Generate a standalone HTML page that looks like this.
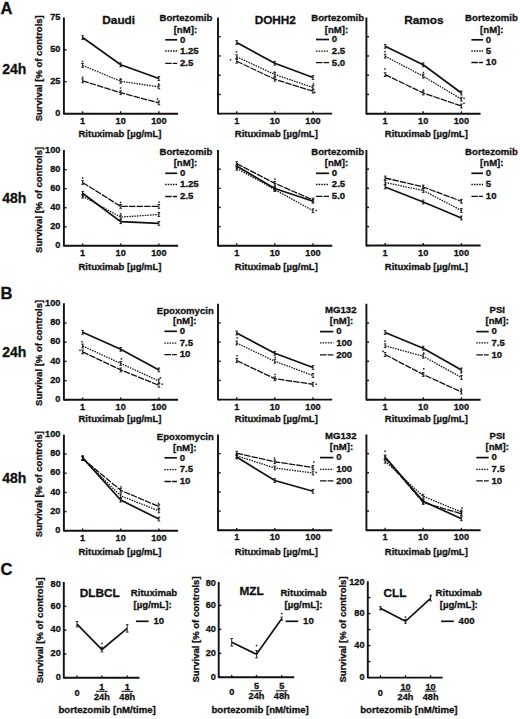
<!DOCTYPE html>
<html><head><meta charset="utf-8"><style>
html,body{margin:0;padding:0;background:#fff;}
svg{display:block;}
text{font-family:"Liberation Sans", sans-serif;font-weight:bold;fill:#111;stroke:#111;stroke-width:0.3px;}
</style></head><body>
<svg width="520" height="719" viewBox="0 0 520 719">
<rect width="520" height="719" fill="#fff"/>
<g stroke="#111" fill="none">
<path d="M63.90,17.50 V113.70 H178.10" stroke-width="1.9" fill="none" stroke-linejoin="round" stroke-linecap="butt"/>
<line x1="63.90" y1="113.65" x2="66.50" y2="113.65" stroke-width="1.4"/>
<text x="60.40" y="115.85" font-size="9.2" text-anchor="end">0</text>
<line x1="63.90" y1="81.70" x2="66.50" y2="81.70" stroke-width="1.4"/>
<text x="60.40" y="83.90" font-size="9.2" text-anchor="end">25</text>
<line x1="63.90" y1="49.80" x2="66.50" y2="49.80" stroke-width="1.4"/>
<text x="60.40" y="52.00" font-size="9.2" text-anchor="end">50</text>
<text x="60.40" y="20.00" font-size="9.2" text-anchor="end">75</text>
<line x1="82.60" y1="113.70" x2="82.60" y2="111.30" stroke-width="1.3"/>
<line x1="120.70" y1="113.70" x2="120.70" y2="111.30" stroke-width="1.3"/>
<line x1="158.90" y1="113.70" x2="158.90" y2="111.30" stroke-width="1.3"/>
<text x="82.60" y="124.30" font-size="9.2" text-anchor="middle">1</text>
<text x="120.70" y="124.30" font-size="9.2" text-anchor="middle">10</text>
<text x="158.90" y="124.30" font-size="9.2" text-anchor="middle">100</text>
<text x="120.00" y="136.70" font-size="9.5" text-anchor="middle">Rituximab [µg/mL]</text>
<text x="0.00" y="0.00" font-size="9.5" text-anchor="middle" transform="translate(42.40,68.30) rotate(-90)">Survival [% of controls]</text>
<path d="M82.60,37.50 L120.70,64.80 L158.90,78.50" stroke-width="1.7" fill="none"/>
<line x1="82.60" y1="35.60" x2="82.60" y2="39.40" stroke-width="0.9"/>
<line x1="81.30" y1="35.60" x2="83.90" y2="35.60" stroke-width="0.9"/>
<line x1="81.30" y1="39.40" x2="83.90" y2="39.40" stroke-width="0.9"/>
<line x1="120.70" y1="62.90" x2="120.70" y2="66.70" stroke-width="0.9"/>
<line x1="119.40" y1="62.90" x2="122.00" y2="62.90" stroke-width="0.9"/>
<line x1="119.40" y1="66.70" x2="122.00" y2="66.70" stroke-width="0.9"/>
<line x1="158.90" y1="76.60" x2="158.90" y2="80.40" stroke-width="0.9"/>
<line x1="157.60" y1="76.60" x2="160.20" y2="76.60" stroke-width="0.9"/>
<line x1="157.60" y1="80.40" x2="160.20" y2="80.40" stroke-width="0.9"/>
<path d="M82.60,65.40 L120.70,81.30 L158.90,86.90" stroke-width="1.3" fill="none" stroke-dasharray="1.5 1.1"/>
<line x1="82.60" y1="63.50" x2="82.60" y2="67.30" stroke-width="0.9"/>
<line x1="81.30" y1="63.50" x2="83.90" y2="63.50" stroke-width="0.9"/>
<line x1="81.30" y1="67.30" x2="83.90" y2="67.30" stroke-width="0.9"/>
<line x1="120.70" y1="79.40" x2="120.70" y2="83.20" stroke-width="0.9"/>
<line x1="119.40" y1="79.40" x2="122.00" y2="79.40" stroke-width="0.9"/>
<line x1="119.40" y1="83.20" x2="122.00" y2="83.20" stroke-width="0.9"/>
<line x1="158.90" y1="85.00" x2="158.90" y2="88.80" stroke-width="0.9"/>
<line x1="157.60" y1="85.00" x2="160.20" y2="85.00" stroke-width="0.9"/>
<line x1="157.60" y1="88.80" x2="160.20" y2="88.80" stroke-width="0.9"/>
<path d="M82.60,80.80 L120.70,92.70 L158.90,102.90" stroke-width="1.3" fill="none" stroke-dasharray="6.5 1.1"/>
<line x1="82.60" y1="78.90" x2="82.60" y2="82.70" stroke-width="0.9"/>
<line x1="81.30" y1="78.90" x2="83.90" y2="78.90" stroke-width="0.9"/>
<line x1="81.30" y1="82.70" x2="83.90" y2="82.70" stroke-width="0.9"/>
<line x1="120.70" y1="90.80" x2="120.70" y2="94.60" stroke-width="0.9"/>
<line x1="119.40" y1="90.80" x2="122.00" y2="90.80" stroke-width="0.9"/>
<line x1="119.40" y1="94.60" x2="122.00" y2="94.60" stroke-width="0.9"/>
<line x1="158.90" y1="101.00" x2="158.90" y2="104.80" stroke-width="0.9"/>
<line x1="157.60" y1="101.00" x2="160.20" y2="101.00" stroke-width="0.9"/>
<line x1="157.60" y1="104.80" x2="160.20" y2="104.80" stroke-width="0.9"/>
<rect x="81.75" y="60.75" width="1.5" height="1.5" fill="#222" stroke="none"/>
<rect x="81.75" y="76.55" width="1.5" height="1.5" fill="#222" stroke="none"/>
<rect x="119.85" y="78.05" width="1.5" height="1.5" fill="#222" stroke="none"/>
<rect x="119.85" y="87.25" width="1.5" height="1.5" fill="#222" stroke="none"/>
<rect x="158.05" y="83.45" width="1.5" height="1.5" fill="#222" stroke="none"/>
<rect x="156.75" y="98.25" width="1.5" height="1.5" fill="#222" stroke="none"/>
<text x="118.70" y="24.40" font-size="11.8" text-anchor="middle">Daudi</text>
<text x="185.90" y="21.20" font-size="9.6" text-anchor="middle">Bortezomib</text>
<text x="185.40" y="32.50" font-size="9.6" text-anchor="middle">[nM]:</text>
<line x1="165.20" y1="39.80" x2="177.20" y2="39.80" stroke-width="1.7"/>
<text x="180.00" y="42.60" font-size="9.6" text-anchor="start">0</text>
<line x1="165.20" y1="51.00" x2="177.20" y2="51.00" stroke-width="1.3" stroke-dasharray="1.5 1.1"/>
<text x="180.00" y="53.80" font-size="9.6" text-anchor="start">1.25</text>
<line x1="165.20" y1="63.30" x2="177.20" y2="63.30" stroke-width="1.3" stroke-dasharray="6.5 1.1"/>
<text x="180.00" y="66.10" font-size="9.6" text-anchor="start">2.5</text>
<path d="M218.00,17.50 V113.65 H332.20" stroke-width="1.9" fill="none" stroke-linejoin="round" stroke-linecap="butt"/>
<line x1="218.00" y1="113.65" x2="220.60" y2="113.65" stroke-width="1.4"/>
<line x1="218.00" y1="94.42" x2="220.60" y2="94.42" stroke-width="1.4"/>
<line x1="218.00" y1="75.19" x2="220.60" y2="75.19" stroke-width="1.4"/>
<line x1="218.00" y1="55.96" x2="220.60" y2="55.96" stroke-width="1.4"/>
<line x1="218.00" y1="36.73" x2="220.60" y2="36.73" stroke-width="1.4"/>
<line x1="236.70" y1="113.65" x2="236.70" y2="111.25" stroke-width="1.3"/>
<line x1="274.80" y1="113.65" x2="274.80" y2="111.25" stroke-width="1.3"/>
<line x1="313.00" y1="113.65" x2="313.00" y2="111.25" stroke-width="1.3"/>
<text x="236.70" y="123.65" font-size="9.2" text-anchor="middle">1</text>
<text x="274.80" y="123.65" font-size="9.2" text-anchor="middle">10</text>
<text x="313.00" y="123.65" font-size="9.2" text-anchor="middle">100</text>
<text x="276.30" y="136.70" font-size="9.5" text-anchor="middle">Rituximab [µg/mL]</text>
<path d="M236.70,42.50 L274.80,63.25 L313.00,77.50" stroke-width="1.7" fill="none"/>
<line x1="236.70" y1="40.60" x2="236.70" y2="44.40" stroke-width="0.9"/>
<line x1="235.40" y1="40.60" x2="238.00" y2="40.60" stroke-width="0.9"/>
<line x1="235.40" y1="44.40" x2="238.00" y2="44.40" stroke-width="0.9"/>
<line x1="274.80" y1="61.35" x2="274.80" y2="65.15" stroke-width="0.9"/>
<line x1="273.50" y1="61.35" x2="276.10" y2="61.35" stroke-width="0.9"/>
<line x1="273.50" y1="65.15" x2="276.10" y2="65.15" stroke-width="0.9"/>
<line x1="313.00" y1="75.60" x2="313.00" y2="79.40" stroke-width="0.9"/>
<line x1="311.70" y1="75.60" x2="314.30" y2="75.60" stroke-width="0.9"/>
<line x1="311.70" y1="79.40" x2="314.30" y2="79.40" stroke-width="0.9"/>
<path d="M236.70,56.75 L274.80,74.50 L313.00,87.50" stroke-width="1.3" fill="none" stroke-dasharray="1.5 1.1"/>
<line x1="236.70" y1="54.85" x2="236.70" y2="58.65" stroke-width="0.9"/>
<line x1="235.40" y1="54.85" x2="238.00" y2="54.85" stroke-width="0.9"/>
<line x1="235.40" y1="58.65" x2="238.00" y2="58.65" stroke-width="0.9"/>
<line x1="274.80" y1="72.60" x2="274.80" y2="76.40" stroke-width="0.9"/>
<line x1="273.50" y1="72.60" x2="276.10" y2="72.60" stroke-width="0.9"/>
<line x1="273.50" y1="76.40" x2="276.10" y2="76.40" stroke-width="0.9"/>
<line x1="313.00" y1="85.60" x2="313.00" y2="89.40" stroke-width="0.9"/>
<line x1="311.70" y1="85.60" x2="314.30" y2="85.60" stroke-width="0.9"/>
<line x1="311.70" y1="89.40" x2="314.30" y2="89.40" stroke-width="0.9"/>
<path d="M236.70,61.25 L274.80,79.25 L313.00,91.25" stroke-width="1.3" fill="none" stroke-dasharray="6.5 1.1"/>
<line x1="236.70" y1="59.35" x2="236.70" y2="63.15" stroke-width="0.9"/>
<line x1="235.40" y1="59.35" x2="238.00" y2="59.35" stroke-width="0.9"/>
<line x1="235.40" y1="63.15" x2="238.00" y2="63.15" stroke-width="0.9"/>
<line x1="274.80" y1="77.35" x2="274.80" y2="81.15" stroke-width="0.9"/>
<line x1="273.50" y1="77.35" x2="276.10" y2="77.35" stroke-width="0.9"/>
<line x1="273.50" y1="81.15" x2="276.10" y2="81.15" stroke-width="0.9"/>
<line x1="313.00" y1="89.35" x2="313.00" y2="93.15" stroke-width="0.9"/>
<line x1="311.70" y1="89.35" x2="314.30" y2="89.35" stroke-width="0.9"/>
<line x1="311.70" y1="93.15" x2="314.30" y2="93.15" stroke-width="0.9"/>
<rect x="235.75" y="51.05" width="1.5" height="1.5" fill="#222" stroke="none"/>
<rect x="229.75" y="58.95" width="1.5" height="1.5" fill="#222" stroke="none"/>
<rect x="273.65" y="71.35" width="1.5" height="1.5" fill="#222" stroke="none"/>
<rect x="312.75" y="83.25" width="1.5" height="1.5" fill="#222" stroke="none"/>
<rect x="313.95" y="91.55" width="1.5" height="1.5" fill="#222" stroke="none"/>
<text x="275.30" y="24.10" font-size="11.8" text-anchor="middle">DOHH2</text>
<text x="337.70" y="21.20" font-size="9.6" text-anchor="middle">Bortezomib</text>
<text x="336.50" y="32.50" font-size="9.6" text-anchor="middle">[nM]:</text>
<line x1="316.00" y1="39.50" x2="329.00" y2="39.50" stroke-width="1.7"/>
<text x="331.80" y="42.30" font-size="9.6" text-anchor="start">0</text>
<line x1="316.00" y1="51.20" x2="329.00" y2="51.20" stroke-width="1.3" stroke-dasharray="1.5 1.1"/>
<text x="331.80" y="54.00" font-size="9.6" text-anchor="start">2.5</text>
<line x1="316.00" y1="62.70" x2="329.00" y2="62.70" stroke-width="1.3" stroke-dasharray="6.5 1.1"/>
<text x="331.80" y="65.50" font-size="9.6" text-anchor="start">5.0</text>
<path d="M366.40,17.50 V113.70 H480.60" stroke-width="1.9" fill="none" stroke-linejoin="round" stroke-linecap="butt"/>
<line x1="366.40" y1="113.65" x2="369.00" y2="113.65" stroke-width="1.4"/>
<line x1="366.40" y1="94.42" x2="369.00" y2="94.42" stroke-width="1.4"/>
<line x1="366.40" y1="75.19" x2="369.00" y2="75.19" stroke-width="1.4"/>
<line x1="366.40" y1="55.96" x2="369.00" y2="55.96" stroke-width="1.4"/>
<line x1="366.40" y1="36.73" x2="369.00" y2="36.73" stroke-width="1.4"/>
<line x1="385.10" y1="113.70" x2="385.10" y2="111.30" stroke-width="1.3"/>
<line x1="423.20" y1="113.70" x2="423.20" y2="111.30" stroke-width="1.3"/>
<line x1="461.40" y1="113.70" x2="461.40" y2="111.30" stroke-width="1.3"/>
<text x="385.10" y="123.70" font-size="9.2" text-anchor="middle">1</text>
<text x="423.20" y="123.70" font-size="9.2" text-anchor="middle">10</text>
<text x="461.40" y="123.70" font-size="9.2" text-anchor="middle">100</text>
<text x="426.30" y="136.70" font-size="9.5" text-anchor="middle">Rituximab [µg/mL]</text>
<path d="M385.10,46.30 L423.20,64.80 L461.40,93.00" stroke-width="1.7" fill="none"/>
<line x1="385.10" y1="44.40" x2="385.10" y2="48.20" stroke-width="0.9"/>
<line x1="383.80" y1="44.40" x2="386.40" y2="44.40" stroke-width="0.9"/>
<line x1="383.80" y1="48.20" x2="386.40" y2="48.20" stroke-width="0.9"/>
<line x1="423.20" y1="62.90" x2="423.20" y2="66.70" stroke-width="0.9"/>
<line x1="421.90" y1="62.90" x2="424.50" y2="62.90" stroke-width="0.9"/>
<line x1="421.90" y1="66.70" x2="424.50" y2="66.70" stroke-width="0.9"/>
<line x1="461.40" y1="91.10" x2="461.40" y2="94.90" stroke-width="0.9"/>
<line x1="460.10" y1="91.10" x2="462.70" y2="91.10" stroke-width="0.9"/>
<line x1="460.10" y1="94.90" x2="462.70" y2="94.90" stroke-width="0.9"/>
<path d="M385.10,56.20 L423.20,76.20 L461.40,99.20" stroke-width="1.3" fill="none" stroke-dasharray="1.5 1.1"/>
<line x1="385.10" y1="54.30" x2="385.10" y2="58.10" stroke-width="0.9"/>
<line x1="383.80" y1="54.30" x2="386.40" y2="54.30" stroke-width="0.9"/>
<line x1="383.80" y1="58.10" x2="386.40" y2="58.10" stroke-width="0.9"/>
<line x1="423.20" y1="74.30" x2="423.20" y2="78.10" stroke-width="0.9"/>
<line x1="421.90" y1="74.30" x2="424.50" y2="74.30" stroke-width="0.9"/>
<line x1="421.90" y1="78.10" x2="424.50" y2="78.10" stroke-width="0.9"/>
<line x1="461.40" y1="97.30" x2="461.40" y2="101.10" stroke-width="0.9"/>
<line x1="460.10" y1="97.30" x2="462.70" y2="97.30" stroke-width="0.9"/>
<line x1="460.10" y1="101.10" x2="462.70" y2="101.10" stroke-width="0.9"/>
<path d="M385.10,74.60 L423.20,93.00 L461.40,106.00" stroke-width="1.3" fill="none" stroke-dasharray="6.5 1.1"/>
<line x1="385.10" y1="72.70" x2="385.10" y2="76.50" stroke-width="0.9"/>
<line x1="383.80" y1="72.70" x2="386.40" y2="72.70" stroke-width="0.9"/>
<line x1="383.80" y1="76.50" x2="386.40" y2="76.50" stroke-width="0.9"/>
<line x1="423.20" y1="91.10" x2="423.20" y2="94.90" stroke-width="0.9"/>
<line x1="421.90" y1="91.10" x2="424.50" y2="91.10" stroke-width="0.9"/>
<line x1="421.90" y1="94.90" x2="424.50" y2="94.90" stroke-width="0.9"/>
<line x1="461.40" y1="104.10" x2="461.40" y2="107.90" stroke-width="0.9"/>
<line x1="460.10" y1="104.10" x2="462.70" y2="104.10" stroke-width="0.9"/>
<line x1="460.10" y1="107.90" x2="462.70" y2="107.90" stroke-width="0.9"/>
<rect x="384.25" y="50.85" width="1.5" height="1.5" fill="#222" stroke="none"/>
<rect x="384.25" y="68.25" width="1.5" height="1.5" fill="#222" stroke="none"/>
<rect x="422.65" y="71.85" width="1.5" height="1.5" fill="#222" stroke="none"/>
<rect x="422.65" y="89.35" width="1.5" height="1.5" fill="#222" stroke="none"/>
<rect x="463.25" y="97.55" width="1.5" height="1.5" fill="#222" stroke="none"/>
<rect x="463.25" y="102.55" width="1.5" height="1.5" fill="#222" stroke="none"/>
<text x="423.80" y="24.40" font-size="11.8" text-anchor="middle">Ramos</text>
<text x="491.50" y="21.20" font-size="9.6" text-anchor="middle">Bortezomib</text>
<text x="491.80" y="32.50" font-size="9.6" text-anchor="middle">[nM]:</text>
<line x1="471.40" y1="39.80" x2="483.00" y2="39.80" stroke-width="1.7"/>
<text x="485.80" y="42.60" font-size="9.6" text-anchor="start">0</text>
<line x1="471.40" y1="51.00" x2="483.00" y2="51.00" stroke-width="1.3" stroke-dasharray="1.5 1.1"/>
<text x="485.80" y="53.80" font-size="9.6" text-anchor="start">5</text>
<line x1="471.40" y1="62.50" x2="483.00" y2="62.50" stroke-width="1.3" stroke-dasharray="6.5 1.1"/>
<text x="485.80" y="65.30" font-size="9.6" text-anchor="start">10</text>
<path d="M63.90,150.00 V245.80 H178.10" stroke-width="1.9" fill="none" stroke-linejoin="round" stroke-linecap="butt"/>
<line x1="63.90" y1="245.80" x2="66.50" y2="245.80" stroke-width="1.4"/>
<text x="60.40" y="248.00" font-size="9.2" text-anchor="end">0</text>
<line x1="63.90" y1="226.76" x2="66.50" y2="226.76" stroke-width="1.4"/>
<text x="60.40" y="228.96" font-size="9.2" text-anchor="end">20</text>
<line x1="63.90" y1="207.72" x2="66.50" y2="207.72" stroke-width="1.4"/>
<text x="60.40" y="209.92" font-size="9.2" text-anchor="end">40</text>
<line x1="63.90" y1="188.68" x2="66.50" y2="188.68" stroke-width="1.4"/>
<text x="60.40" y="190.88" font-size="9.2" text-anchor="end">60</text>
<line x1="63.90" y1="169.64" x2="66.50" y2="169.64" stroke-width="1.4"/>
<text x="60.40" y="171.84" font-size="9.2" text-anchor="end">80</text>
<text x="60.40" y="152.80" font-size="9.2" text-anchor="end">100</text>
<line x1="82.60" y1="245.80" x2="82.60" y2="243.40" stroke-width="1.3"/>
<line x1="120.70" y1="245.80" x2="120.70" y2="243.40" stroke-width="1.3"/>
<line x1="158.90" y1="245.80" x2="158.90" y2="243.40" stroke-width="1.3"/>
<text x="82.60" y="255.80" font-size="9.2" text-anchor="middle">1</text>
<text x="120.70" y="255.80" font-size="9.2" text-anchor="middle">10</text>
<text x="158.90" y="255.80" font-size="9.2" text-anchor="middle">100</text>
<text x="120.00" y="269.50" font-size="9.5" text-anchor="middle">Rituximab [µg/mL]</text>
<text x="0.00" y="0.00" font-size="9.5" text-anchor="middle" transform="translate(42.30,199.90) rotate(-90)">Survival [% of controls]</text>
<path d="M82.60,193.30 L120.70,221.70 L158.90,223.40" stroke-width="1.7" fill="none"/>
<line x1="82.60" y1="191.40" x2="82.60" y2="195.20" stroke-width="0.9"/>
<line x1="81.30" y1="191.40" x2="83.90" y2="191.40" stroke-width="0.9"/>
<line x1="81.30" y1="195.20" x2="83.90" y2="195.20" stroke-width="0.9"/>
<line x1="120.70" y1="219.80" x2="120.70" y2="223.60" stroke-width="0.9"/>
<line x1="119.40" y1="219.80" x2="122.00" y2="219.80" stroke-width="0.9"/>
<line x1="119.40" y1="223.60" x2="122.00" y2="223.60" stroke-width="0.9"/>
<line x1="158.90" y1="221.50" x2="158.90" y2="225.30" stroke-width="0.9"/>
<line x1="157.60" y1="221.50" x2="160.20" y2="221.50" stroke-width="0.9"/>
<line x1="157.60" y1="225.30" x2="160.20" y2="225.30" stroke-width="0.9"/>
<path d="M82.60,196.20 L120.70,217.10 L158.90,214.50" stroke-width="1.3" fill="none" stroke-dasharray="1.5 1.1"/>
<line x1="82.60" y1="194.30" x2="82.60" y2="198.10" stroke-width="0.9"/>
<line x1="81.30" y1="194.30" x2="83.90" y2="194.30" stroke-width="0.9"/>
<line x1="81.30" y1="198.10" x2="83.90" y2="198.10" stroke-width="0.9"/>
<line x1="120.70" y1="215.20" x2="120.70" y2="219.00" stroke-width="0.9"/>
<line x1="119.40" y1="215.20" x2="122.00" y2="215.20" stroke-width="0.9"/>
<line x1="119.40" y1="219.00" x2="122.00" y2="219.00" stroke-width="0.9"/>
<line x1="158.90" y1="212.60" x2="158.90" y2="216.40" stroke-width="0.9"/>
<line x1="157.60" y1="212.60" x2="160.20" y2="212.60" stroke-width="0.9"/>
<line x1="157.60" y1="216.40" x2="160.20" y2="216.40" stroke-width="0.9"/>
<path d="M82.60,182.50 L120.70,206.40 L158.90,206.40" stroke-width="1.3" fill="none" stroke-dasharray="6.5 1.1"/>
<line x1="82.60" y1="180.60" x2="82.60" y2="184.40" stroke-width="0.9"/>
<line x1="81.30" y1="180.60" x2="83.90" y2="180.60" stroke-width="0.9"/>
<line x1="81.30" y1="184.40" x2="83.90" y2="184.40" stroke-width="0.9"/>
<line x1="120.70" y1="204.50" x2="120.70" y2="208.30" stroke-width="0.9"/>
<line x1="119.40" y1="204.50" x2="122.00" y2="204.50" stroke-width="0.9"/>
<line x1="119.40" y1="208.30" x2="122.00" y2="208.30" stroke-width="0.9"/>
<line x1="158.90" y1="204.50" x2="158.90" y2="208.30" stroke-width="0.9"/>
<line x1="157.60" y1="204.50" x2="160.20" y2="204.50" stroke-width="0.9"/>
<line x1="157.60" y1="208.30" x2="160.20" y2="208.30" stroke-width="0.9"/>
<rect x="81.95" y="177.35" width="1.5" height="1.5" fill="#222" stroke="none"/>
<rect x="119.85" y="201.75" width="1.5" height="1.5" fill="#222" stroke="none"/>
<rect x="119.85" y="212.95" width="1.5" height="1.5" fill="#222" stroke="none"/>
<rect x="158.25" y="201.45" width="1.5" height="1.5" fill="#222" stroke="none"/>
<rect x="158.25" y="211.75" width="1.5" height="1.5" fill="#222" stroke="none"/>
<text x="185.90" y="154.70" font-size="9.6" text-anchor="middle">Bortezomib</text>
<text x="185.40" y="166.00" font-size="9.6" text-anchor="middle">[nM]:</text>
<line x1="165.20" y1="173.30" x2="177.20" y2="173.30" stroke-width="1.7"/>
<text x="180.00" y="176.10" font-size="9.6" text-anchor="start">0</text>
<line x1="165.20" y1="184.50" x2="177.20" y2="184.50" stroke-width="1.3" stroke-dasharray="1.5 1.1"/>
<text x="180.00" y="187.30" font-size="9.6" text-anchor="start">1.25</text>
<line x1="165.20" y1="196.50" x2="177.20" y2="196.50" stroke-width="1.3" stroke-dasharray="6.5 1.1"/>
<text x="180.00" y="199.30" font-size="9.6" text-anchor="start">2.5</text>
<path d="M218.00,150.00 V245.75 H332.20" stroke-width="1.9" fill="none" stroke-linejoin="round" stroke-linecap="butt"/>
<line x1="218.00" y1="245.75" x2="220.60" y2="245.75" stroke-width="1.4"/>
<line x1="218.00" y1="226.60" x2="220.60" y2="226.60" stroke-width="1.4"/>
<line x1="218.00" y1="207.45" x2="220.60" y2="207.45" stroke-width="1.4"/>
<line x1="218.00" y1="188.30" x2="220.60" y2="188.30" stroke-width="1.4"/>
<line x1="218.00" y1="169.15" x2="220.60" y2="169.15" stroke-width="1.4"/>
<line x1="236.70" y1="245.75" x2="236.70" y2="243.35" stroke-width="1.3"/>
<line x1="274.80" y1="245.75" x2="274.80" y2="243.35" stroke-width="1.3"/>
<line x1="313.00" y1="245.75" x2="313.00" y2="243.35" stroke-width="1.3"/>
<text x="236.70" y="255.75" font-size="9.2" text-anchor="middle">1</text>
<text x="274.80" y="255.75" font-size="9.2" text-anchor="middle">10</text>
<text x="313.00" y="255.75" font-size="9.2" text-anchor="middle">100</text>
<text x="276.30" y="269.50" font-size="9.5" text-anchor="middle">Rituximab [µg/mL]</text>
<path d="M236.70,166.00 L274.80,188.50 L313.00,201.25" stroke-width="1.7" fill="none"/>
<line x1="236.70" y1="164.10" x2="236.70" y2="167.90" stroke-width="0.9"/>
<line x1="235.40" y1="164.10" x2="238.00" y2="164.10" stroke-width="0.9"/>
<line x1="235.40" y1="167.90" x2="238.00" y2="167.90" stroke-width="0.9"/>
<line x1="274.80" y1="186.60" x2="274.80" y2="190.40" stroke-width="0.9"/>
<line x1="273.50" y1="186.60" x2="276.10" y2="186.60" stroke-width="0.9"/>
<line x1="273.50" y1="190.40" x2="276.10" y2="190.40" stroke-width="0.9"/>
<line x1="313.00" y1="199.35" x2="313.00" y2="203.15" stroke-width="0.9"/>
<line x1="311.70" y1="199.35" x2="314.30" y2="199.35" stroke-width="0.9"/>
<line x1="311.70" y1="203.15" x2="314.30" y2="203.15" stroke-width="0.9"/>
<path d="M236.70,168.30 L274.80,189.60 L313.00,210.75" stroke-width="1.3" fill="none" stroke-dasharray="1.5 1.1"/>
<line x1="236.70" y1="166.40" x2="236.70" y2="170.20" stroke-width="0.9"/>
<line x1="235.40" y1="166.40" x2="238.00" y2="166.40" stroke-width="0.9"/>
<line x1="235.40" y1="170.20" x2="238.00" y2="170.20" stroke-width="0.9"/>
<line x1="274.80" y1="187.70" x2="274.80" y2="191.50" stroke-width="0.9"/>
<line x1="273.50" y1="187.70" x2="276.10" y2="187.70" stroke-width="0.9"/>
<line x1="273.50" y1="191.50" x2="276.10" y2="191.50" stroke-width="0.9"/>
<line x1="313.00" y1="208.85" x2="313.00" y2="212.65" stroke-width="0.9"/>
<line x1="311.70" y1="208.85" x2="314.30" y2="208.85" stroke-width="0.9"/>
<line x1="311.70" y1="212.65" x2="314.30" y2="212.65" stroke-width="0.9"/>
<path d="M236.70,163.65 L274.80,183.30 L313.00,200.00" stroke-width="1.3" fill="none" stroke-dasharray="6.5 1.1"/>
<line x1="236.70" y1="161.75" x2="236.70" y2="165.55" stroke-width="0.9"/>
<line x1="235.40" y1="161.75" x2="238.00" y2="161.75" stroke-width="0.9"/>
<line x1="235.40" y1="165.55" x2="238.00" y2="165.55" stroke-width="0.9"/>
<line x1="274.80" y1="181.40" x2="274.80" y2="185.20" stroke-width="0.9"/>
<line x1="273.50" y1="181.40" x2="276.10" y2="181.40" stroke-width="0.9"/>
<line x1="273.50" y1="185.20" x2="276.10" y2="185.20" stroke-width="0.9"/>
<line x1="313.00" y1="198.10" x2="313.00" y2="201.90" stroke-width="0.9"/>
<line x1="311.70" y1="198.10" x2="314.30" y2="198.10" stroke-width="0.9"/>
<line x1="311.70" y1="201.90" x2="314.30" y2="201.90" stroke-width="0.9"/>
<rect x="274.25" y="178.45" width="1.5" height="1.5" fill="#222" stroke="none"/>
<rect x="315.45" y="209.75" width="1.5" height="1.5" fill="#222" stroke="none"/>
<text x="337.70" y="154.70" font-size="9.6" text-anchor="middle">Bortezomib</text>
<text x="336.50" y="166.00" font-size="9.6" text-anchor="middle">[nM]:</text>
<line x1="316.00" y1="173.30" x2="329.00" y2="173.30" stroke-width="1.7"/>
<text x="331.80" y="176.10" font-size="9.6" text-anchor="start">0</text>
<line x1="316.00" y1="184.50" x2="329.00" y2="184.50" stroke-width="1.3" stroke-dasharray="1.5 1.1"/>
<text x="331.80" y="187.30" font-size="9.6" text-anchor="start">2.5</text>
<line x1="316.00" y1="196.30" x2="329.00" y2="196.30" stroke-width="1.3" stroke-dasharray="6.5 1.1"/>
<text x="331.80" y="199.10" font-size="9.6" text-anchor="start">5.0</text>
<path d="M366.40,150.00 V245.50 H480.60" stroke-width="1.9" fill="none" stroke-linejoin="round" stroke-linecap="butt"/>
<line x1="366.40" y1="245.75" x2="369.00" y2="245.75" stroke-width="1.4"/>
<line x1="366.40" y1="226.60" x2="369.00" y2="226.60" stroke-width="1.4"/>
<line x1="366.40" y1="207.45" x2="369.00" y2="207.45" stroke-width="1.4"/>
<line x1="366.40" y1="188.30" x2="369.00" y2="188.30" stroke-width="1.4"/>
<line x1="366.40" y1="169.15" x2="369.00" y2="169.15" stroke-width="1.4"/>
<line x1="385.10" y1="245.50" x2="385.10" y2="243.10" stroke-width="1.3"/>
<line x1="423.20" y1="245.50" x2="423.20" y2="243.10" stroke-width="1.3"/>
<line x1="461.40" y1="245.50" x2="461.40" y2="243.10" stroke-width="1.3"/>
<text x="385.10" y="255.50" font-size="9.2" text-anchor="middle">1</text>
<text x="423.20" y="255.50" font-size="9.2" text-anchor="middle">10</text>
<text x="461.40" y="255.50" font-size="9.2" text-anchor="middle">100</text>
<text x="426.30" y="269.50" font-size="9.5" text-anchor="middle">Rituximab [µg/mL]</text>
<path d="M385.10,187.00 L423.20,202.00 L461.40,218.00" stroke-width="1.7" fill="none"/>
<line x1="385.10" y1="185.10" x2="385.10" y2="188.90" stroke-width="0.9"/>
<line x1="383.80" y1="185.10" x2="386.40" y2="185.10" stroke-width="0.9"/>
<line x1="383.80" y1="188.90" x2="386.40" y2="188.90" stroke-width="0.9"/>
<line x1="423.20" y1="200.10" x2="423.20" y2="203.90" stroke-width="0.9"/>
<line x1="421.90" y1="200.10" x2="424.50" y2="200.10" stroke-width="0.9"/>
<line x1="421.90" y1="203.90" x2="424.50" y2="203.90" stroke-width="0.9"/>
<line x1="461.40" y1="216.10" x2="461.40" y2="219.90" stroke-width="0.9"/>
<line x1="460.10" y1="216.10" x2="462.70" y2="216.10" stroke-width="0.9"/>
<line x1="460.10" y1="219.90" x2="462.70" y2="219.90" stroke-width="0.9"/>
<path d="M385.10,182.50 L423.20,190.50 L461.40,210.50" stroke-width="1.3" fill="none" stroke-dasharray="1.5 1.1"/>
<line x1="385.10" y1="180.60" x2="385.10" y2="184.40" stroke-width="0.9"/>
<line x1="383.80" y1="180.60" x2="386.40" y2="180.60" stroke-width="0.9"/>
<line x1="383.80" y1="184.40" x2="386.40" y2="184.40" stroke-width="0.9"/>
<line x1="423.20" y1="188.60" x2="423.20" y2="192.40" stroke-width="0.9"/>
<line x1="421.90" y1="188.60" x2="424.50" y2="188.60" stroke-width="0.9"/>
<line x1="421.90" y1="192.40" x2="424.50" y2="192.40" stroke-width="0.9"/>
<line x1="461.40" y1="208.60" x2="461.40" y2="212.40" stroke-width="0.9"/>
<line x1="460.10" y1="208.60" x2="462.70" y2="208.60" stroke-width="0.9"/>
<line x1="460.10" y1="212.40" x2="462.70" y2="212.40" stroke-width="0.9"/>
<path d="M385.10,178.00 L423.20,187.00 L461.40,201.25" stroke-width="1.3" fill="none" stroke-dasharray="6.5 1.1"/>
<line x1="385.10" y1="176.10" x2="385.10" y2="179.90" stroke-width="0.9"/>
<line x1="383.80" y1="176.10" x2="386.40" y2="176.10" stroke-width="0.9"/>
<line x1="383.80" y1="179.90" x2="386.40" y2="179.90" stroke-width="0.9"/>
<line x1="423.20" y1="185.10" x2="423.20" y2="188.90" stroke-width="0.9"/>
<line x1="421.90" y1="185.10" x2="424.50" y2="185.10" stroke-width="0.9"/>
<line x1="421.90" y1="188.90" x2="424.50" y2="188.90" stroke-width="0.9"/>
<line x1="461.40" y1="199.35" x2="461.40" y2="203.15" stroke-width="0.9"/>
<line x1="460.10" y1="199.35" x2="462.70" y2="199.35" stroke-width="0.9"/>
<line x1="460.10" y1="203.15" x2="462.70" y2="203.15" stroke-width="0.9"/>
<text x="491.50" y="154.70" font-size="9.6" text-anchor="middle">Bortezomib</text>
<text x="491.80" y="166.00" font-size="9.6" text-anchor="middle">[nM]:</text>
<line x1="471.40" y1="173.30" x2="483.00" y2="173.30" stroke-width="1.7"/>
<text x="485.80" y="176.10" font-size="9.6" text-anchor="start">0</text>
<line x1="471.40" y1="184.50" x2="483.00" y2="184.50" stroke-width="1.3" stroke-dasharray="1.5 1.1"/>
<text x="485.80" y="187.30" font-size="9.6" text-anchor="start">5</text>
<line x1="471.40" y1="196.30" x2="483.00" y2="196.30" stroke-width="1.3" stroke-dasharray="6.5 1.1"/>
<text x="485.80" y="199.10" font-size="9.6" text-anchor="start">10</text>
<path d="M63.90,303.30 V399.80 H178.10" stroke-width="1.9" fill="none" stroke-linejoin="round" stroke-linecap="butt"/>
<line x1="63.90" y1="399.80" x2="66.50" y2="399.80" stroke-width="1.4"/>
<text x="60.40" y="402.00" font-size="9.2" text-anchor="end">0</text>
<line x1="63.90" y1="380.60" x2="66.50" y2="380.60" stroke-width="1.4"/>
<text x="60.40" y="382.80" font-size="9.2" text-anchor="end">20</text>
<line x1="63.90" y1="361.40" x2="66.50" y2="361.40" stroke-width="1.4"/>
<text x="60.40" y="363.60" font-size="9.2" text-anchor="end">40</text>
<line x1="63.90" y1="342.20" x2="66.50" y2="342.20" stroke-width="1.4"/>
<text x="60.40" y="344.40" font-size="9.2" text-anchor="end">60</text>
<line x1="63.90" y1="323.00" x2="66.50" y2="323.00" stroke-width="1.4"/>
<text x="60.40" y="325.20" font-size="9.2" text-anchor="end">80</text>
<text x="60.40" y="306.00" font-size="9.2" text-anchor="end">100</text>
<line x1="82.60" y1="399.80" x2="82.60" y2="397.40" stroke-width="1.3"/>
<line x1="120.70" y1="399.80" x2="120.70" y2="397.40" stroke-width="1.3"/>
<line x1="158.90" y1="399.80" x2="158.90" y2="397.40" stroke-width="1.3"/>
<text x="82.60" y="409.80" font-size="9.2" text-anchor="middle">1</text>
<text x="120.70" y="409.80" font-size="9.2" text-anchor="middle">10</text>
<text x="158.90" y="409.80" font-size="9.2" text-anchor="middle">100</text>
<text x="120.00" y="421.80" font-size="9.5" text-anchor="middle">Rituximab [µg/mL]</text>
<text x="0.00" y="0.00" font-size="9.5" text-anchor="middle" transform="translate(42.30,352.90) rotate(-90)">Survival [% of controls]</text>
<path d="M82.60,332.30 L120.70,349.30 L158.90,369.90" stroke-width="1.7" fill="none"/>
<line x1="82.60" y1="330.40" x2="82.60" y2="334.20" stroke-width="0.9"/>
<line x1="81.30" y1="330.40" x2="83.90" y2="330.40" stroke-width="0.9"/>
<line x1="81.30" y1="334.20" x2="83.90" y2="334.20" stroke-width="0.9"/>
<line x1="120.70" y1="347.40" x2="120.70" y2="351.20" stroke-width="0.9"/>
<line x1="119.40" y1="347.40" x2="122.00" y2="347.40" stroke-width="0.9"/>
<line x1="119.40" y1="351.20" x2="122.00" y2="351.20" stroke-width="0.9"/>
<line x1="158.90" y1="368.00" x2="158.90" y2="371.80" stroke-width="0.9"/>
<line x1="157.60" y1="368.00" x2="160.20" y2="368.00" stroke-width="0.9"/>
<line x1="157.60" y1="371.80" x2="160.20" y2="371.80" stroke-width="0.9"/>
<path d="M82.60,346.00 L120.70,363.40 L158.90,381.00" stroke-width="1.3" fill="none" stroke-dasharray="1.5 1.1"/>
<line x1="82.60" y1="344.10" x2="82.60" y2="347.90" stroke-width="0.9"/>
<line x1="81.30" y1="344.10" x2="83.90" y2="344.10" stroke-width="0.9"/>
<line x1="81.30" y1="347.90" x2="83.90" y2="347.90" stroke-width="0.9"/>
<line x1="120.70" y1="361.50" x2="120.70" y2="365.30" stroke-width="0.9"/>
<line x1="119.40" y1="361.50" x2="122.00" y2="361.50" stroke-width="0.9"/>
<line x1="119.40" y1="365.30" x2="122.00" y2="365.30" stroke-width="0.9"/>
<line x1="158.90" y1="379.10" x2="158.90" y2="382.90" stroke-width="0.9"/>
<line x1="157.60" y1="379.10" x2="160.20" y2="379.10" stroke-width="0.9"/>
<line x1="157.60" y1="382.90" x2="160.20" y2="382.90" stroke-width="0.9"/>
<path d="M82.60,351.90 L120.70,369.90 L158.90,385.30" stroke-width="1.3" fill="none" stroke-dasharray="6.5 1.1"/>
<line x1="82.60" y1="350.00" x2="82.60" y2="353.80" stroke-width="0.9"/>
<line x1="81.30" y1="350.00" x2="83.90" y2="350.00" stroke-width="0.9"/>
<line x1="81.30" y1="353.80" x2="83.90" y2="353.80" stroke-width="0.9"/>
<line x1="120.70" y1="368.00" x2="120.70" y2="371.80" stroke-width="0.9"/>
<line x1="119.40" y1="368.00" x2="122.00" y2="368.00" stroke-width="0.9"/>
<line x1="119.40" y1="371.80" x2="122.00" y2="371.80" stroke-width="0.9"/>
<line x1="158.90" y1="383.40" x2="158.90" y2="387.20" stroke-width="0.9"/>
<line x1="157.60" y1="383.40" x2="160.20" y2="383.40" stroke-width="0.9"/>
<line x1="157.60" y1="387.20" x2="160.20" y2="387.20" stroke-width="0.9"/>
<rect x="81.35" y="340.95" width="1.5" height="1.5" fill="#222" stroke="none"/>
<rect x="79.25" y="349.65" width="1.5" height="1.5" fill="#222" stroke="none"/>
<rect x="120.65" y="358.15" width="1.5" height="1.5" fill="#222" stroke="none"/>
<rect x="159.65" y="377.05" width="1.5" height="1.5" fill="#222" stroke="none"/>
<rect x="161.45" y="383.45" width="1.5" height="1.5" fill="#222" stroke="none"/>
<text x="185.30" y="313.50" font-size="9.6" text-anchor="middle">Epoxomycin</text>
<text x="184.70" y="324.30" font-size="9.6" text-anchor="middle">[nM]:</text>
<line x1="164.40" y1="331.30" x2="176.90" y2="331.30" stroke-width="1.7"/>
<text x="179.70" y="334.10" font-size="9.6" text-anchor="start">0</text>
<line x1="164.40" y1="343.10" x2="176.90" y2="343.10" stroke-width="1.3" stroke-dasharray="1.5 1.1"/>
<text x="179.70" y="345.90" font-size="9.6" text-anchor="start">7.5</text>
<line x1="164.40" y1="354.60" x2="176.90" y2="354.60" stroke-width="1.3" stroke-dasharray="6.5 1.1"/>
<text x="179.70" y="357.40" font-size="9.6" text-anchor="start">10</text>
<path d="M218.00,303.75 V399.60 H332.20" stroke-width="1.9" fill="none" stroke-linejoin="round" stroke-linecap="butt"/>
<line x1="218.00" y1="399.60" x2="220.60" y2="399.60" stroke-width="1.4"/>
<line x1="218.00" y1="380.43" x2="220.60" y2="380.43" stroke-width="1.4"/>
<line x1="218.00" y1="361.26" x2="220.60" y2="361.26" stroke-width="1.4"/>
<line x1="218.00" y1="342.09" x2="220.60" y2="342.09" stroke-width="1.4"/>
<line x1="218.00" y1="322.92" x2="220.60" y2="322.92" stroke-width="1.4"/>
<line x1="236.70" y1="399.60" x2="236.70" y2="397.20" stroke-width="1.3"/>
<line x1="274.80" y1="399.60" x2="274.80" y2="397.20" stroke-width="1.3"/>
<line x1="313.00" y1="399.60" x2="313.00" y2="397.20" stroke-width="1.3"/>
<text x="236.70" y="409.60" font-size="9.2" text-anchor="middle">1</text>
<text x="274.80" y="409.60" font-size="9.2" text-anchor="middle">10</text>
<text x="313.00" y="409.60" font-size="9.2" text-anchor="middle">100</text>
<text x="276.30" y="421.80" font-size="9.5" text-anchor="middle">Rituximab [µg/mL]</text>
<path d="M236.70,333.00 L274.80,353.25 L313.00,367.50" stroke-width="1.7" fill="none"/>
<line x1="236.70" y1="331.10" x2="236.70" y2="334.90" stroke-width="0.9"/>
<line x1="235.40" y1="331.10" x2="238.00" y2="331.10" stroke-width="0.9"/>
<line x1="235.40" y1="334.90" x2="238.00" y2="334.90" stroke-width="0.9"/>
<line x1="274.80" y1="351.35" x2="274.80" y2="355.15" stroke-width="0.9"/>
<line x1="273.50" y1="351.35" x2="276.10" y2="351.35" stroke-width="0.9"/>
<line x1="273.50" y1="355.15" x2="276.10" y2="355.15" stroke-width="0.9"/>
<line x1="313.00" y1="365.60" x2="313.00" y2="369.40" stroke-width="0.9"/>
<line x1="311.70" y1="365.60" x2="314.30" y2="365.60" stroke-width="0.9"/>
<line x1="311.70" y1="369.40" x2="314.30" y2="369.40" stroke-width="0.9"/>
<path d="M236.70,343.00 L274.80,361.25 L313.00,375.50" stroke-width="1.3" fill="none" stroke-dasharray="1.5 1.1"/>
<line x1="236.70" y1="341.10" x2="236.70" y2="344.90" stroke-width="0.9"/>
<line x1="235.40" y1="341.10" x2="238.00" y2="341.10" stroke-width="0.9"/>
<line x1="235.40" y1="344.90" x2="238.00" y2="344.90" stroke-width="0.9"/>
<line x1="274.80" y1="359.35" x2="274.80" y2="363.15" stroke-width="0.9"/>
<line x1="273.50" y1="359.35" x2="276.10" y2="359.35" stroke-width="0.9"/>
<line x1="273.50" y1="363.15" x2="276.10" y2="363.15" stroke-width="0.9"/>
<line x1="313.00" y1="373.60" x2="313.00" y2="377.40" stroke-width="0.9"/>
<line x1="311.70" y1="373.60" x2="314.30" y2="373.60" stroke-width="0.9"/>
<line x1="311.70" y1="377.40" x2="314.30" y2="377.40" stroke-width="0.9"/>
<path d="M236.70,360.50 L274.80,378.75 L313.00,384.25" stroke-width="1.3" fill="none" stroke-dasharray="6.5 1.1"/>
<line x1="236.70" y1="358.60" x2="236.70" y2="362.40" stroke-width="0.9"/>
<line x1="235.40" y1="358.60" x2="238.00" y2="358.60" stroke-width="0.9"/>
<line x1="235.40" y1="362.40" x2="238.00" y2="362.40" stroke-width="0.9"/>
<line x1="274.80" y1="376.85" x2="274.80" y2="380.65" stroke-width="0.9"/>
<line x1="273.50" y1="376.85" x2="276.10" y2="376.85" stroke-width="0.9"/>
<line x1="273.50" y1="380.65" x2="276.10" y2="380.65" stroke-width="0.9"/>
<line x1="313.00" y1="382.35" x2="313.00" y2="386.15" stroke-width="0.9"/>
<line x1="311.70" y1="382.35" x2="314.30" y2="382.35" stroke-width="0.9"/>
<line x1="311.70" y1="386.15" x2="314.30" y2="386.15" stroke-width="0.9"/>
<rect x="236.25" y="337.25" width="1.5" height="1.5" fill="#222" stroke="none"/>
<rect x="236.25" y="355.00" width="1.5" height="1.5" fill="#222" stroke="none"/>
<rect x="274.50" y="356.75" width="1.5" height="1.5" fill="#222" stroke="none"/>
<rect x="274.25" y="373.75" width="1.5" height="1.5" fill="#222" stroke="none"/>
<rect x="315.50" y="383.50" width="1.5" height="1.5" fill="#222" stroke="none"/>
<text x="340.80" y="313.00" font-size="9.6" text-anchor="middle">MG132</text>
<text x="341.50" y="324.00" font-size="9.6" text-anchor="middle">[nM]:</text>
<line x1="320.00" y1="331.60" x2="333.40" y2="331.60" stroke-width="1.7"/>
<text x="336.20" y="334.40" font-size="9.6" text-anchor="start">0</text>
<line x1="320.00" y1="342.90" x2="333.40" y2="342.90" stroke-width="1.3" stroke-dasharray="1.5 1.1"/>
<text x="336.20" y="345.70" font-size="9.6" text-anchor="start">100</text>
<line x1="320.00" y1="354.80" x2="333.40" y2="354.80" stroke-width="1.3" stroke-dasharray="6.5 1.1"/>
<text x="336.20" y="357.60" font-size="9.6" text-anchor="start">200</text>
<path d="M366.40,303.75 V399.70 H480.60" stroke-width="1.9" fill="none" stroke-linejoin="round" stroke-linecap="butt"/>
<line x1="366.40" y1="399.60" x2="369.00" y2="399.60" stroke-width="1.4"/>
<line x1="366.40" y1="380.43" x2="369.00" y2="380.43" stroke-width="1.4"/>
<line x1="366.40" y1="361.26" x2="369.00" y2="361.26" stroke-width="1.4"/>
<line x1="366.40" y1="342.09" x2="369.00" y2="342.09" stroke-width="1.4"/>
<line x1="366.40" y1="322.92" x2="369.00" y2="322.92" stroke-width="1.4"/>
<line x1="385.10" y1="399.70" x2="385.10" y2="397.30" stroke-width="1.3"/>
<line x1="423.20" y1="399.70" x2="423.20" y2="397.30" stroke-width="1.3"/>
<line x1="461.40" y1="399.70" x2="461.40" y2="397.30" stroke-width="1.3"/>
<text x="385.10" y="409.70" font-size="9.2" text-anchor="middle">1</text>
<text x="423.20" y="409.70" font-size="9.2" text-anchor="middle">10</text>
<text x="461.40" y="409.70" font-size="9.2" text-anchor="middle">100</text>
<text x="426.30" y="421.80" font-size="9.5" text-anchor="middle">Rituximab [µg/mL]</text>
<path d="M385.10,332.50 L423.20,348.25 L461.40,370.00" stroke-width="1.7" fill="none"/>
<line x1="385.10" y1="330.60" x2="385.10" y2="334.40" stroke-width="0.9"/>
<line x1="383.80" y1="330.60" x2="386.40" y2="330.60" stroke-width="0.9"/>
<line x1="383.80" y1="334.40" x2="386.40" y2="334.40" stroke-width="0.9"/>
<line x1="423.20" y1="346.35" x2="423.20" y2="350.15" stroke-width="0.9"/>
<line x1="421.90" y1="346.35" x2="424.50" y2="346.35" stroke-width="0.9"/>
<line x1="421.90" y1="350.15" x2="424.50" y2="350.15" stroke-width="0.9"/>
<line x1="461.40" y1="368.10" x2="461.40" y2="371.90" stroke-width="0.9"/>
<line x1="460.10" y1="368.10" x2="462.70" y2="368.10" stroke-width="0.9"/>
<line x1="460.10" y1="371.90" x2="462.70" y2="371.90" stroke-width="0.9"/>
<path d="M385.10,345.75 L423.20,356.25 L461.40,377.50" stroke-width="1.3" fill="none" stroke-dasharray="1.5 1.1"/>
<line x1="385.10" y1="343.85" x2="385.10" y2="347.65" stroke-width="0.9"/>
<line x1="383.80" y1="343.85" x2="386.40" y2="343.85" stroke-width="0.9"/>
<line x1="383.80" y1="347.65" x2="386.40" y2="347.65" stroke-width="0.9"/>
<line x1="423.20" y1="354.35" x2="423.20" y2="358.15" stroke-width="0.9"/>
<line x1="421.90" y1="354.35" x2="424.50" y2="354.35" stroke-width="0.9"/>
<line x1="421.90" y1="358.15" x2="424.50" y2="358.15" stroke-width="0.9"/>
<line x1="461.40" y1="375.60" x2="461.40" y2="379.40" stroke-width="0.9"/>
<line x1="460.10" y1="375.60" x2="462.70" y2="375.60" stroke-width="0.9"/>
<line x1="460.10" y1="379.40" x2="462.70" y2="379.40" stroke-width="0.9"/>
<path d="M385.10,354.50 L423.20,374.50 L461.40,392.00" stroke-width="1.3" fill="none" stroke-dasharray="6.5 1.1"/>
<line x1="385.10" y1="352.60" x2="385.10" y2="356.40" stroke-width="0.9"/>
<line x1="383.80" y1="352.60" x2="386.40" y2="352.60" stroke-width="0.9"/>
<line x1="383.80" y1="356.40" x2="386.40" y2="356.40" stroke-width="0.9"/>
<line x1="423.20" y1="372.60" x2="423.20" y2="376.40" stroke-width="0.9"/>
<line x1="421.90" y1="372.60" x2="424.50" y2="372.60" stroke-width="0.9"/>
<line x1="421.90" y1="376.40" x2="424.50" y2="376.40" stroke-width="0.9"/>
<line x1="461.40" y1="390.10" x2="461.40" y2="393.90" stroke-width="0.9"/>
<line x1="460.10" y1="390.10" x2="462.70" y2="390.10" stroke-width="0.9"/>
<line x1="460.10" y1="393.90" x2="462.70" y2="393.90" stroke-width="0.9"/>
<rect x="384.25" y="340.50" width="1.5" height="1.5" fill="#222" stroke="none"/>
<rect x="382.25" y="350.50" width="1.5" height="1.5" fill="#222" stroke="none"/>
<rect x="423.00" y="352.25" width="1.5" height="1.5" fill="#222" stroke="none"/>
<rect x="423.00" y="368.00" width="1.5" height="1.5" fill="#222" stroke="none"/>
<rect x="460.50" y="372.25" width="1.5" height="1.5" fill="#222" stroke="none"/>
<rect x="460.50" y="388.00" width="1.5" height="1.5" fill="#222" stroke="none"/>
<text x="497.30" y="313.00" font-size="9.6" text-anchor="middle">PSI</text>
<text x="497.20" y="324.00" font-size="9.6" text-anchor="middle">[nM]:</text>
<line x1="476.30" y1="331.60" x2="488.70" y2="331.60" stroke-width="1.7"/>
<text x="491.50" y="334.40" font-size="9.6" text-anchor="start">0</text>
<line x1="476.30" y1="342.90" x2="488.70" y2="342.90" stroke-width="1.3" stroke-dasharray="1.5 1.1"/>
<text x="491.50" y="345.70" font-size="9.6" text-anchor="start">7.5</text>
<line x1="476.30" y1="354.80" x2="488.70" y2="354.80" stroke-width="1.3" stroke-dasharray="6.5 1.1"/>
<text x="491.50" y="357.60" font-size="9.6" text-anchor="start">10</text>
<path d="M63.90,434.70 V530.80 H178.10" stroke-width="1.9" fill="none" stroke-linejoin="round" stroke-linecap="butt"/>
<line x1="63.90" y1="530.80" x2="66.50" y2="530.80" stroke-width="1.4"/>
<text x="60.40" y="533.00" font-size="9.2" text-anchor="end">0</text>
<line x1="63.90" y1="511.62" x2="66.50" y2="511.62" stroke-width="1.4"/>
<text x="60.40" y="513.82" font-size="9.2" text-anchor="end">20</text>
<line x1="63.90" y1="492.44" x2="66.50" y2="492.44" stroke-width="1.4"/>
<text x="60.40" y="494.64" font-size="9.2" text-anchor="end">40</text>
<line x1="63.90" y1="473.26" x2="66.50" y2="473.26" stroke-width="1.4"/>
<text x="60.40" y="475.46" font-size="9.2" text-anchor="end">60</text>
<line x1="63.90" y1="454.08" x2="66.50" y2="454.08" stroke-width="1.4"/>
<text x="60.40" y="456.28" font-size="9.2" text-anchor="end">80</text>
<text x="60.40" y="437.10" font-size="9.2" text-anchor="end">100</text>
<line x1="82.60" y1="530.80" x2="82.60" y2="528.40" stroke-width="1.3"/>
<line x1="120.70" y1="530.80" x2="120.70" y2="528.40" stroke-width="1.3"/>
<line x1="158.90" y1="530.80" x2="158.90" y2="528.40" stroke-width="1.3"/>
<text x="82.60" y="540.80" font-size="9.2" text-anchor="middle">1</text>
<text x="120.70" y="540.80" font-size="9.2" text-anchor="middle">10</text>
<text x="158.90" y="540.80" font-size="9.2" text-anchor="middle">100</text>
<text x="120.00" y="554.50" font-size="9.5" text-anchor="middle">Rituximab [µg/mL]</text>
<text x="0.00" y="0.00" font-size="9.5" text-anchor="middle" transform="translate(42.30,484.10) rotate(-90)">Survival [% of controls]</text>
<path d="M82.60,457.60 L120.70,500.10 L158.90,519.00" stroke-width="1.7" fill="none"/>
<line x1="82.60" y1="455.70" x2="82.60" y2="459.50" stroke-width="0.9"/>
<line x1="81.30" y1="455.70" x2="83.90" y2="455.70" stroke-width="0.9"/>
<line x1="81.30" y1="459.50" x2="83.90" y2="459.50" stroke-width="0.9"/>
<line x1="120.70" y1="498.20" x2="120.70" y2="502.00" stroke-width="0.9"/>
<line x1="119.40" y1="498.20" x2="122.00" y2="498.20" stroke-width="0.9"/>
<line x1="119.40" y1="502.00" x2="122.00" y2="502.00" stroke-width="0.9"/>
<line x1="158.90" y1="517.10" x2="158.90" y2="520.90" stroke-width="0.9"/>
<line x1="157.60" y1="517.10" x2="160.20" y2="517.10" stroke-width="0.9"/>
<line x1="157.60" y1="520.90" x2="160.20" y2="520.90" stroke-width="0.9"/>
<path d="M82.60,458.60 L120.70,495.80 L158.90,510.90" stroke-width="1.3" fill="none" stroke-dasharray="1.5 1.1"/>
<line x1="82.60" y1="456.70" x2="82.60" y2="460.50" stroke-width="0.9"/>
<line x1="81.30" y1="456.70" x2="83.90" y2="456.70" stroke-width="0.9"/>
<line x1="81.30" y1="460.50" x2="83.90" y2="460.50" stroke-width="0.9"/>
<line x1="120.70" y1="493.90" x2="120.70" y2="497.70" stroke-width="0.9"/>
<line x1="119.40" y1="493.90" x2="122.00" y2="493.90" stroke-width="0.9"/>
<line x1="119.40" y1="497.70" x2="122.00" y2="497.70" stroke-width="0.9"/>
<line x1="158.90" y1="509.00" x2="158.90" y2="512.80" stroke-width="0.9"/>
<line x1="157.60" y1="509.00" x2="160.20" y2="509.00" stroke-width="0.9"/>
<line x1="157.60" y1="512.80" x2="160.20" y2="512.80" stroke-width="0.9"/>
<path d="M82.60,458.60 L120.70,490.30 L158.90,506.60" stroke-width="1.3" fill="none" stroke-dasharray="6.5 1.1"/>
<line x1="82.60" y1="456.70" x2="82.60" y2="460.50" stroke-width="0.9"/>
<line x1="81.30" y1="456.70" x2="83.90" y2="456.70" stroke-width="0.9"/>
<line x1="81.30" y1="460.50" x2="83.90" y2="460.50" stroke-width="0.9"/>
<line x1="120.70" y1="488.40" x2="120.70" y2="492.20" stroke-width="0.9"/>
<line x1="119.40" y1="488.40" x2="122.00" y2="488.40" stroke-width="0.9"/>
<line x1="119.40" y1="492.20" x2="122.00" y2="492.20" stroke-width="0.9"/>
<line x1="158.90" y1="504.70" x2="158.90" y2="508.50" stroke-width="0.9"/>
<line x1="157.60" y1="504.70" x2="160.20" y2="504.70" stroke-width="0.9"/>
<line x1="157.60" y1="508.50" x2="160.20" y2="508.50" stroke-width="0.9"/>
<rect x="120.25" y="486.25" width="1.5" height="1.5" fill="#222" stroke="none"/>
<rect x="157.75" y="502.65" width="1.5" height="1.5" fill="#222" stroke="none"/>
<text x="185.30" y="439.70" font-size="9.6" text-anchor="middle">Epoxomycin</text>
<text x="184.70" y="451.00" font-size="9.6" text-anchor="middle">[nM]:</text>
<line x1="164.40" y1="457.80" x2="176.90" y2="457.80" stroke-width="1.7"/>
<text x="179.70" y="460.60" font-size="9.6" text-anchor="start">0</text>
<line x1="164.40" y1="469.60" x2="176.90" y2="469.60" stroke-width="1.3" stroke-dasharray="1.5 1.1"/>
<text x="179.70" y="472.40" font-size="9.6" text-anchor="start">7.5</text>
<line x1="164.40" y1="481.50" x2="176.90" y2="481.50" stroke-width="1.3" stroke-dasharray="6.5 1.1"/>
<text x="179.70" y="484.30" font-size="9.6" text-anchor="start">10</text>
<path d="M218.00,434.50 V530.30 H332.20" stroke-width="1.9" fill="none" stroke-linejoin="round" stroke-linecap="butt"/>
<line x1="218.00" y1="530.30" x2="220.60" y2="530.30" stroke-width="1.4"/>
<line x1="218.00" y1="511.14" x2="220.60" y2="511.14" stroke-width="1.4"/>
<line x1="218.00" y1="491.98" x2="220.60" y2="491.98" stroke-width="1.4"/>
<line x1="218.00" y1="472.82" x2="220.60" y2="472.82" stroke-width="1.4"/>
<line x1="218.00" y1="453.66" x2="220.60" y2="453.66" stroke-width="1.4"/>
<line x1="236.70" y1="530.30" x2="236.70" y2="527.90" stroke-width="1.3"/>
<line x1="274.80" y1="530.30" x2="274.80" y2="527.90" stroke-width="1.3"/>
<line x1="313.00" y1="530.30" x2="313.00" y2="527.90" stroke-width="1.3"/>
<text x="236.70" y="540.30" font-size="9.2" text-anchor="middle">1</text>
<text x="274.80" y="540.30" font-size="9.2" text-anchor="middle">10</text>
<text x="313.00" y="540.30" font-size="9.2" text-anchor="middle">100</text>
<text x="276.30" y="554.50" font-size="9.5" text-anchor="middle">Rituximab [µg/mL]</text>
<path d="M236.70,457.00 L274.80,480.50 L313.00,491.25" stroke-width="1.7" fill="none"/>
<line x1="236.70" y1="455.10" x2="236.70" y2="458.90" stroke-width="0.9"/>
<line x1="235.40" y1="455.10" x2="238.00" y2="455.10" stroke-width="0.9"/>
<line x1="235.40" y1="458.90" x2="238.00" y2="458.90" stroke-width="0.9"/>
<line x1="274.80" y1="478.60" x2="274.80" y2="482.40" stroke-width="0.9"/>
<line x1="273.50" y1="478.60" x2="276.10" y2="478.60" stroke-width="0.9"/>
<line x1="273.50" y1="482.40" x2="276.10" y2="482.40" stroke-width="0.9"/>
<line x1="313.00" y1="489.35" x2="313.00" y2="493.15" stroke-width="0.9"/>
<line x1="311.70" y1="489.35" x2="314.30" y2="489.35" stroke-width="0.9"/>
<line x1="311.70" y1="493.15" x2="314.30" y2="493.15" stroke-width="0.9"/>
<path d="M236.70,455.75 L274.80,468.00 L313.00,473.00" stroke-width="1.3" fill="none" stroke-dasharray="1.5 1.1"/>
<line x1="236.70" y1="453.85" x2="236.70" y2="457.65" stroke-width="0.9"/>
<line x1="235.40" y1="453.85" x2="238.00" y2="453.85" stroke-width="0.9"/>
<line x1="235.40" y1="457.65" x2="238.00" y2="457.65" stroke-width="0.9"/>
<line x1="274.80" y1="466.10" x2="274.80" y2="469.90" stroke-width="0.9"/>
<line x1="273.50" y1="466.10" x2="276.10" y2="466.10" stroke-width="0.9"/>
<line x1="273.50" y1="469.90" x2="276.10" y2="469.90" stroke-width="0.9"/>
<line x1="313.00" y1="471.10" x2="313.00" y2="474.90" stroke-width="0.9"/>
<line x1="311.70" y1="471.10" x2="314.30" y2="471.10" stroke-width="0.9"/>
<line x1="311.70" y1="474.90" x2="314.30" y2="474.90" stroke-width="0.9"/>
<path d="M236.70,453.25 L274.80,461.75 L313.00,467.50" stroke-width="1.3" fill="none" stroke-dasharray="6.5 1.1"/>
<line x1="236.70" y1="451.35" x2="236.70" y2="455.15" stroke-width="0.9"/>
<line x1="235.40" y1="451.35" x2="238.00" y2="451.35" stroke-width="0.9"/>
<line x1="235.40" y1="455.15" x2="238.00" y2="455.15" stroke-width="0.9"/>
<line x1="274.80" y1="459.85" x2="274.80" y2="463.65" stroke-width="0.9"/>
<line x1="273.50" y1="459.85" x2="276.10" y2="459.85" stroke-width="0.9"/>
<line x1="273.50" y1="463.65" x2="276.10" y2="463.65" stroke-width="0.9"/>
<line x1="313.00" y1="465.60" x2="313.00" y2="469.40" stroke-width="0.9"/>
<line x1="311.70" y1="465.60" x2="314.30" y2="465.60" stroke-width="0.9"/>
<line x1="311.70" y1="469.40" x2="314.30" y2="469.40" stroke-width="0.9"/>
<rect x="273.75" y="457.25" width="1.5" height="1.5" fill="#222" stroke="none"/>
<rect x="313.00" y="461.25" width="1.5" height="1.5" fill="#222" stroke="none"/>
<rect x="315.50" y="471.75" width="1.5" height="1.5" fill="#222" stroke="none"/>
<text x="340.80" y="439.30" font-size="9.6" text-anchor="middle">MG132</text>
<text x="341.50" y="450.00" font-size="9.6" text-anchor="middle">[nM]:</text>
<line x1="320.00" y1="457.60" x2="333.40" y2="457.60" stroke-width="1.7"/>
<text x="336.20" y="460.40" font-size="9.6" text-anchor="start">0</text>
<line x1="320.00" y1="469.40" x2="333.40" y2="469.40" stroke-width="1.3" stroke-dasharray="1.5 1.1"/>
<text x="336.20" y="472.20" font-size="9.6" text-anchor="start">100</text>
<line x1="320.00" y1="480.90" x2="333.40" y2="480.90" stroke-width="1.3" stroke-dasharray="6.5 1.1"/>
<text x="336.20" y="483.70" font-size="9.6" text-anchor="start">200</text>
<path d="M366.40,434.50 V530.25 H480.60" stroke-width="1.9" fill="none" stroke-linejoin="round" stroke-linecap="butt"/>
<line x1="366.40" y1="530.25" x2="369.00" y2="530.25" stroke-width="1.4"/>
<line x1="366.40" y1="511.10" x2="369.00" y2="511.10" stroke-width="1.4"/>
<line x1="366.40" y1="491.95" x2="369.00" y2="491.95" stroke-width="1.4"/>
<line x1="366.40" y1="472.80" x2="369.00" y2="472.80" stroke-width="1.4"/>
<line x1="366.40" y1="453.65" x2="369.00" y2="453.65" stroke-width="1.4"/>
<line x1="385.10" y1="530.25" x2="385.10" y2="527.85" stroke-width="1.3"/>
<line x1="423.20" y1="530.25" x2="423.20" y2="527.85" stroke-width="1.3"/>
<line x1="461.40" y1="530.25" x2="461.40" y2="527.85" stroke-width="1.3"/>
<text x="385.10" y="540.25" font-size="9.2" text-anchor="middle">1</text>
<text x="423.20" y="540.25" font-size="9.2" text-anchor="middle">10</text>
<text x="461.40" y="540.25" font-size="9.2" text-anchor="middle">100</text>
<text x="426.30" y="554.50" font-size="9.5" text-anchor="middle">Rituximab [µg/mL]</text>
<path d="M385.10,457.00 L423.20,501.25 L461.40,518.75" stroke-width="1.7" fill="none"/>
<line x1="385.10" y1="455.10" x2="385.10" y2="458.90" stroke-width="0.9"/>
<line x1="383.80" y1="455.10" x2="386.40" y2="455.10" stroke-width="0.9"/>
<line x1="383.80" y1="458.90" x2="386.40" y2="458.90" stroke-width="0.9"/>
<line x1="423.20" y1="499.35" x2="423.20" y2="503.15" stroke-width="0.9"/>
<line x1="421.90" y1="499.35" x2="424.50" y2="499.35" stroke-width="0.9"/>
<line x1="421.90" y1="503.15" x2="424.50" y2="503.15" stroke-width="0.9"/>
<line x1="461.40" y1="516.85" x2="461.40" y2="520.65" stroke-width="0.9"/>
<line x1="460.10" y1="516.85" x2="462.70" y2="516.85" stroke-width="0.9"/>
<line x1="460.10" y1="520.65" x2="462.70" y2="520.65" stroke-width="0.9"/>
<path d="M385.10,461.25 L423.20,496.25 L461.40,512.00" stroke-width="1.3" fill="none" stroke-dasharray="1.5 1.1"/>
<line x1="385.10" y1="459.35" x2="385.10" y2="463.15" stroke-width="0.9"/>
<line x1="383.80" y1="459.35" x2="386.40" y2="459.35" stroke-width="0.9"/>
<line x1="383.80" y1="463.15" x2="386.40" y2="463.15" stroke-width="0.9"/>
<line x1="423.20" y1="494.35" x2="423.20" y2="498.15" stroke-width="0.9"/>
<line x1="421.90" y1="494.35" x2="424.50" y2="494.35" stroke-width="0.9"/>
<line x1="421.90" y1="498.15" x2="424.50" y2="498.15" stroke-width="0.9"/>
<line x1="461.40" y1="510.10" x2="461.40" y2="513.90" stroke-width="0.9"/>
<line x1="460.10" y1="510.10" x2="462.70" y2="510.10" stroke-width="0.9"/>
<line x1="460.10" y1="513.90" x2="462.70" y2="513.90" stroke-width="0.9"/>
<path d="M385.10,458.00 L423.20,502.50 L461.40,513.75" stroke-width="1.3" fill="none" stroke-dasharray="6.5 1.1"/>
<line x1="385.10" y1="456.10" x2="385.10" y2="459.90" stroke-width="0.9"/>
<line x1="383.80" y1="456.10" x2="386.40" y2="456.10" stroke-width="0.9"/>
<line x1="383.80" y1="459.90" x2="386.40" y2="459.90" stroke-width="0.9"/>
<line x1="423.20" y1="500.60" x2="423.20" y2="504.40" stroke-width="0.9"/>
<line x1="421.90" y1="500.60" x2="424.50" y2="500.60" stroke-width="0.9"/>
<line x1="421.90" y1="504.40" x2="424.50" y2="504.40" stroke-width="0.9"/>
<line x1="461.40" y1="511.85" x2="461.40" y2="515.65" stroke-width="0.9"/>
<line x1="460.10" y1="511.85" x2="462.70" y2="511.85" stroke-width="0.9"/>
<line x1="460.10" y1="515.65" x2="462.70" y2="515.65" stroke-width="0.9"/>
<rect x="384.25" y="450.50" width="1.5" height="1.5" fill="#222" stroke="none"/>
<rect x="461.25" y="507.25" width="1.5" height="1.5" fill="#222" stroke="none"/>
<text x="497.30" y="439.30" font-size="9.6" text-anchor="middle">PSI</text>
<text x="497.20" y="450.00" font-size="9.6" text-anchor="middle">[nM]:</text>
<line x1="476.30" y1="457.60" x2="488.70" y2="457.60" stroke-width="1.7"/>
<text x="491.50" y="460.40" font-size="9.6" text-anchor="start">0</text>
<line x1="476.30" y1="469.40" x2="488.70" y2="469.40" stroke-width="1.3" stroke-dasharray="1.5 1.1"/>
<text x="491.50" y="472.20" font-size="9.6" text-anchor="start">7.5</text>
<line x1="476.30" y1="480.90" x2="488.70" y2="480.90" stroke-width="1.3" stroke-dasharray="6.5 1.1"/>
<text x="491.50" y="483.70" font-size="9.6" text-anchor="start">10</text>
<path d="M63.80,581.90 V677.80 H139.50" stroke-width="1.9" fill="none" stroke-linejoin="round" stroke-linecap="butt"/>
<line x1="63.80" y1="677.80" x2="66.40" y2="677.80" stroke-width="1.4"/>
<text x="60.80" y="680.00" font-size="9.2" text-anchor="end">0</text>
<line x1="63.80" y1="654.00" x2="66.40" y2="654.00" stroke-width="1.4"/>
<text x="60.80" y="656.20" font-size="9.2" text-anchor="end">20</text>
<line x1="63.80" y1="630.20" x2="66.40" y2="630.20" stroke-width="1.4"/>
<text x="60.80" y="632.40" font-size="9.2" text-anchor="end">40</text>
<line x1="63.80" y1="606.40" x2="66.40" y2="606.40" stroke-width="1.4"/>
<text x="60.80" y="608.60" font-size="9.2" text-anchor="end">60</text>
<text x="60.80" y="586.80" font-size="9.2" text-anchor="end">80</text>
<line x1="77.00" y1="677.80" x2="77.00" y2="675.40" stroke-width="1.3"/>
<line x1="101.90" y1="677.80" x2="101.90" y2="675.40" stroke-width="1.3"/>
<line x1="127.20" y1="677.80" x2="127.20" y2="675.40" stroke-width="1.3"/>
<text x="77.00" y="695.80" font-size="9.2" text-anchor="middle">0</text>
<text x="101.90" y="689.80" font-size="9.2" text-anchor="middle">1</text>
<line x1="96.10" y1="691.30" x2="107.70" y2="691.30" stroke-width="1.0"/>
<text x="101.90" y="699.80" font-size="9.2" text-anchor="middle">24h</text>
<text x="127.20" y="689.80" font-size="9.2" text-anchor="middle">1</text>
<line x1="121.40" y1="691.30" x2="133.00" y2="691.30" stroke-width="1.0"/>
<text x="127.20" y="699.80" font-size="9.2" text-anchor="middle">48h</text>
<text x="107.10" y="713.00" font-size="9.65" text-anchor="middle">bortezomib [nM/time]</text>
<text x="0.00" y="0.00" font-size="9.5" text-anchor="middle" transform="translate(43.40,630.30) rotate(-90)">Survival [% of controls]</text>
<path d="M77.00,624.20 L101.90,649.50 L127.20,628.40" stroke-width="1.7" fill="none"/>
<line x1="77.00" y1="621.50" x2="77.00" y2="626.90" stroke-width="0.9"/>
<line x1="75.70" y1="621.50" x2="78.30" y2="621.50" stroke-width="0.9"/>
<line x1="75.70" y1="626.90" x2="78.30" y2="626.90" stroke-width="0.9"/>
<line x1="101.90" y1="647.10" x2="101.90" y2="651.90" stroke-width="0.9"/>
<line x1="100.60" y1="647.10" x2="103.20" y2="647.10" stroke-width="0.9"/>
<line x1="100.60" y1="651.90" x2="103.20" y2="651.90" stroke-width="0.9"/>
<line x1="127.20" y1="624.70" x2="127.20" y2="632.10" stroke-width="0.9"/>
<line x1="125.90" y1="624.70" x2="128.50" y2="624.70" stroke-width="0.9"/>
<line x1="125.90" y1="632.10" x2="128.50" y2="632.10" stroke-width="0.9"/>
<rect x="101.25" y="642.75" width="1.5" height="1.5" fill="#222" stroke="none"/>
<text x="99.75" y="596.60" font-size="11.8" text-anchor="middle">DLBCL</text>
<text x="154.00" y="596.10" font-size="9.6" text-anchor="middle">Rituximab</text>
<text x="152.60" y="607.60" font-size="9.6" text-anchor="middle">[µg/mL]:</text>
<line x1="135.90" y1="621.30" x2="148.60" y2="621.30" stroke-width="1.7"/>
<text x="153.40" y="624.10" font-size="9.6" text-anchor="start">10</text>
<path d="M218.70,581.90 V677.30 H294.20" stroke-width="1.9" fill="none" stroke-linejoin="round" stroke-linecap="butt"/>
<line x1="218.70" y1="677.30" x2="221.30" y2="677.30" stroke-width="1.4"/>
<text x="215.90" y="679.50" font-size="9.2" text-anchor="end">0</text>
<line x1="218.70" y1="653.35" x2="221.30" y2="653.35" stroke-width="1.4"/>
<text x="215.90" y="655.55" font-size="9.2" text-anchor="end">20</text>
<line x1="218.70" y1="629.40" x2="221.30" y2="629.40" stroke-width="1.4"/>
<text x="215.90" y="631.60" font-size="9.2" text-anchor="end">40</text>
<line x1="218.70" y1="605.45" x2="221.30" y2="605.45" stroke-width="1.4"/>
<text x="215.90" y="607.65" font-size="9.2" text-anchor="end">60</text>
<text x="215.90" y="585.70" font-size="9.2" text-anchor="end">80</text>
<line x1="231.70" y1="677.30" x2="231.70" y2="674.90" stroke-width="1.3"/>
<line x1="256.50" y1="677.30" x2="256.50" y2="674.90" stroke-width="1.3"/>
<line x1="281.70" y1="677.30" x2="281.70" y2="674.90" stroke-width="1.3"/>
<text x="231.70" y="695.30" font-size="9.2" text-anchor="middle">0</text>
<text x="256.50" y="689.30" font-size="9.2" text-anchor="middle">5</text>
<line x1="250.70" y1="690.80" x2="262.30" y2="690.80" stroke-width="1.0"/>
<text x="256.50" y="699.30" font-size="9.2" text-anchor="middle">24h</text>
<text x="281.70" y="689.30" font-size="9.2" text-anchor="middle">5</text>
<line x1="275.90" y1="690.80" x2="287.50" y2="690.80" stroke-width="1.0"/>
<text x="281.70" y="699.30" font-size="9.2" text-anchor="middle">48h</text>
<text x="260.10" y="713.00" font-size="9.65" text-anchor="middle">bortezomib [nM/time]</text>
<text x="0.00" y="0.00" font-size="9.5" text-anchor="middle" transform="translate(198.60,629.50) rotate(-90)">Survival [% of controls]</text>
<path d="M231.70,642.30 L256.50,654.20 L281.70,618.70" stroke-width="1.7" fill="none"/>
<line x1="231.70" y1="638.50" x2="231.70" y2="646.10" stroke-width="0.9"/>
<line x1="230.40" y1="638.50" x2="233.00" y2="638.50" stroke-width="0.9"/>
<line x1="230.40" y1="646.10" x2="233.00" y2="646.10" stroke-width="0.9"/>
<line x1="256.50" y1="650.60" x2="256.50" y2="657.80" stroke-width="0.9"/>
<line x1="255.20" y1="650.60" x2="257.80" y2="650.60" stroke-width="0.9"/>
<line x1="255.20" y1="657.80" x2="257.80" y2="657.80" stroke-width="0.9"/>
<line x1="281.70" y1="617.10" x2="281.70" y2="620.30" stroke-width="0.9"/>
<line x1="280.40" y1="617.10" x2="283.00" y2="617.10" stroke-width="0.9"/>
<line x1="280.40" y1="620.30" x2="283.00" y2="620.30" stroke-width="0.9"/>
<rect x="255.75" y="644.85" width="1.5" height="1.5" fill="#222" stroke="none"/>
<rect x="280.95" y="612.75" width="1.5" height="1.5" fill="#222" stroke="none"/>
<text x="251.65" y="595.30" font-size="11.8" text-anchor="middle">MZL</text>
<text x="303.60" y="596.10" font-size="9.6" text-anchor="middle">Rituximab</text>
<text x="303.50" y="607.60" font-size="9.6" text-anchor="middle">[µg/mL]:</text>
<line x1="285.60" y1="621.30" x2="298.30" y2="621.30" stroke-width="1.7"/>
<text x="303.10" y="624.10" font-size="9.6" text-anchor="start">10</text>
<path d="M367.80,581.30 V677.60 H442.70" stroke-width="1.9" fill="none" stroke-linejoin="round" stroke-linecap="butt"/>
<line x1="367.80" y1="677.60" x2="370.40" y2="677.60" stroke-width="1.4"/>
<text x="364.60" y="679.80" font-size="9.2" text-anchor="end">0</text>
<line x1="367.80" y1="661.60" x2="370.40" y2="661.60" stroke-width="1.4"/>
<line x1="367.80" y1="645.60" x2="370.40" y2="645.60" stroke-width="1.4"/>
<text x="364.60" y="647.80" font-size="9.2" text-anchor="end">40</text>
<line x1="367.80" y1="629.60" x2="370.40" y2="629.60" stroke-width="1.4"/>
<line x1="367.80" y1="613.60" x2="370.40" y2="613.60" stroke-width="1.4"/>
<text x="364.60" y="615.80" font-size="9.2" text-anchor="end">80</text>
<line x1="367.80" y1="597.60" x2="370.40" y2="597.60" stroke-width="1.4"/>
<text x="364.60" y="585.10" font-size="9.2" text-anchor="end">120</text>
<line x1="380.40" y1="677.60" x2="380.40" y2="675.20" stroke-width="1.3"/>
<line x1="405.50" y1="677.60" x2="405.50" y2="675.20" stroke-width="1.3"/>
<line x1="430.60" y1="677.60" x2="430.60" y2="675.20" stroke-width="1.3"/>
<text x="380.40" y="695.60" font-size="9.2" text-anchor="middle">0</text>
<text x="405.50" y="689.60" font-size="9.2" text-anchor="middle">10</text>
<line x1="399.70" y1="691.10" x2="411.30" y2="691.10" stroke-width="1.0"/>
<text x="405.50" y="699.60" font-size="9.2" text-anchor="middle">24h</text>
<text x="430.60" y="689.60" font-size="9.2" text-anchor="middle">10</text>
<line x1="424.80" y1="691.10" x2="436.40" y2="691.10" stroke-width="1.0"/>
<text x="430.60" y="699.60" font-size="9.2" text-anchor="middle">48h</text>
<text x="408.90" y="713.00" font-size="9.65" text-anchor="middle">bortezomib [nM/time]</text>
<text x="0.00" y="0.00" font-size="9.5" text-anchor="middle" transform="translate(345.70,629.50) rotate(-90)">Survival [% of controls]</text>
<path d="M380.40,608.30 L405.50,621.30 L430.60,598.40" stroke-width="1.7" fill="none"/>
<line x1="380.40" y1="606.70" x2="380.40" y2="609.90" stroke-width="0.9"/>
<line x1="379.10" y1="606.70" x2="381.70" y2="606.70" stroke-width="0.9"/>
<line x1="379.10" y1="609.90" x2="381.70" y2="609.90" stroke-width="0.9"/>
<line x1="405.50" y1="619.30" x2="405.50" y2="623.30" stroke-width="0.9"/>
<line x1="404.20" y1="619.30" x2="406.80" y2="619.30" stroke-width="0.9"/>
<line x1="404.20" y1="623.30" x2="406.80" y2="623.30" stroke-width="0.9"/>
<line x1="430.60" y1="596.00" x2="430.60" y2="600.80" stroke-width="0.9"/>
<line x1="429.30" y1="596.00" x2="431.90" y2="596.00" stroke-width="0.9"/>
<line x1="429.30" y1="600.80" x2="431.90" y2="600.80" stroke-width="0.9"/>
<rect x="404.75" y="616.25" width="1.5" height="1.5" fill="#222" stroke="none"/>
<rect x="429.85" y="594.55" width="1.5" height="1.5" fill="#222" stroke="none"/>
<text x="394.90" y="596.60" font-size="11.8" text-anchor="middle">CLL</text>
<text x="458.80" y="596.10" font-size="9.6" text-anchor="middle">Rituximab</text>
<text x="458.80" y="607.60" font-size="9.6" text-anchor="middle">[µg/mL]:</text>
<line x1="441.10" y1="621.30" x2="453.80" y2="621.30" stroke-width="1.7"/>
<text x="458.60" y="624.10" font-size="9.6" text-anchor="start">400</text>
<text x="0.60" y="13.80" font-size="16.6" text-anchor="start">A</text>
<text x="0.60" y="298.60" font-size="16.6" text-anchor="start">B</text>
<text x="0.60" y="575.30" font-size="16.6" text-anchor="start">C</text>
<text x="2.30" y="74.30" font-size="14" text-anchor="start">24h</text>
<text x="2.30" y="202.50" font-size="14" text-anchor="start">48h</text>
<text x="2.30" y="357.00" font-size="14" text-anchor="start">24h</text>
<text x="2.30" y="482.70" font-size="14" text-anchor="start">48h</text>
</g>
</svg>
</body></html>
